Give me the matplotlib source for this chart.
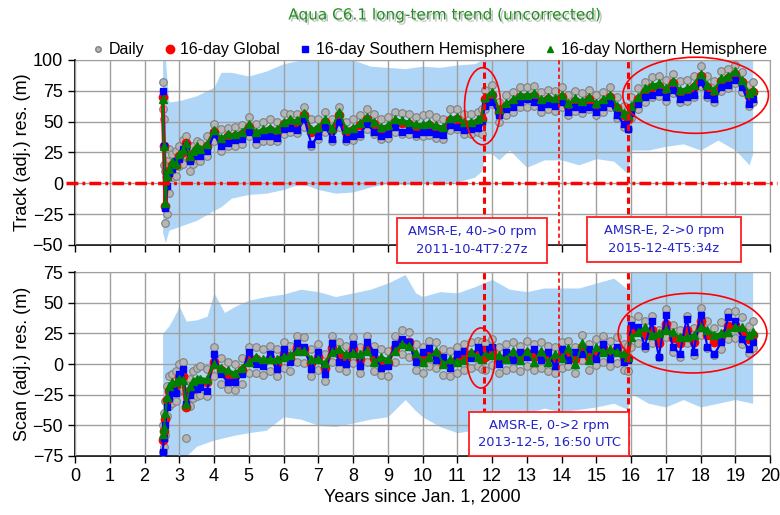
import matplotlib
matplotlib.use("Agg")
import matplotlib.pyplot as plt
import matplotlib.patheffects as pe
from matplotlib.patches import Ellipse, Rectangle
from matplotlib.lines import Line2D

plt.rcParams['font.family'] = ['Liberation Sans', 'DejaVu Sans']
plt.rcParams['lines.scale_dashes'] = False

# ---------------- data ----------------
years = [2.52, 2.56, 2.60, 2.65, 2.70, 2.80, 2.90, 3.00, 3.10, 3.20, 3.30, 3.40, 3.50, 3.60, 3.80,
         4.00, 4.20, 4.40, 4.60, 4.80, 5.00, 5.20, 5.40, 5.60, 5.80, 6.00, 6.20, 6.40, 6.60, 6.80,
         7.00, 7.20, 7.40, 7.60, 7.80, 8.00, 8.20, 8.40, 8.60, 8.80, 9.00, 9.20, 9.40, 9.60, 9.80,
         10.00, 10.20, 10.40, 10.60, 10.80, 11.00, 11.20, 11.40, 11.60,
         11.70, 11.80,
         12.00, 12.20, 12.40, 12.60, 12.80, 13.00, 13.20, 13.40, 13.60, 13.80,
         14.00, 14.20, 14.40, 14.60, 14.80, 15.00, 15.20, 15.40, 15.60, 15.80,
         15.90,
         16.00, 16.20, 16.40, 16.60, 16.80, 17.00, 17.20, 17.40, 17.60, 17.80, 18.00, 18.20, 18.40,
         18.60, 18.80, 19.00, 19.20, 19.40,
         19.50]

# Track panel
track_global = [70, 30, -18, 5, 10, 15, 15, 22, 25, 33, 20, 24, 28, 26, 30,
                42, 35, 38, 38, 40, 46, 40, 42, 43, 42, 48, 50, 49, 55, 42,
                44, 50, 43, 55, 42, 43, 47, 52, 48, 44, 45, 50, 49, 48, 46,
                46, 47, 45, 44, 51, 52, 48, 48, 50,
                52, 68,
                72, 58, 63, 66, 70, 70, 71, 66, 68, 67,
                70, 63, 67, 65, 68, 63, 66, 70, 61, 55,
                52,
                61, 68, 74, 78, 79, 75, 81, 74, 75, 78, 87, 78, 74,
                83, 85, 89, 82, 71,
                74]
track_south = [75, 30, -20, -2, 8, 12, 18, 20, 28, 30, 18, 22, 25, 22, 26,
               40, 30, 33, 35, 36, 42, 36, 38, 38, 37, 44, 45, 43, 52, 32,
               38, 46, 36, 50, 36, 38, 40, 48, 42, 38, 40, 46, 42, 43, 40,
               42, 42, 40, 39, 47, 46, 43, 44, 45,
               50, 63,
               66, 55, 60, 62, 66, 68, 66, 62, 64, 63,
               66, 58, 62, 60, 62, 58, 62, 65, 55, 48,
               44,
               57, 64, 70, 72, 74, 70, 76, 68, 70, 72, 82, 72, 68,
               78, 80, 84, 78, 64,
               68]
track_north = [68, 30, -16, 6, 12, 17, 16, 24, 27, 33, 22, 26, 30, 28, 32,
               43, 37, 40, 40, 42, 48, 42, 44, 45, 44, 50, 52, 51, 57, 44,
               46, 52, 45, 58, 44, 45, 49, 54, 50, 46, 47, 52, 51, 50, 48,
               48, 49, 47, 46, 53, 54, 50, 50, 52,
               54, 70,
               74, 60, 65, 68, 72, 72, 73, 68, 70, 69,
               72, 65, 69, 67, 70, 65, 68, 72, 63, 57,
               55,
               63, 70, 77, 80, 81, 77, 83, 76, 77, 80, 89, 80, 76,
               85, 87, 91, 84, 73,
               76]
track_daily_hi = [82, 52, 10, 18, 28, 24, 26, 30, 35, 38, 30, 30, 34, 33, 38,
                  48, 44, 45, 46, 47, 54, 48, 50, 52, 50, 57, 56, 56, 62, 52,
                  52, 58, 52, 62, 50, 52, 55, 60, 56, 52, 54, 58, 57, 56, 54,
                  55, 56, 54, 52, 60, 60, 56, 56, 58,
                  60, 76,
                  80, 66, 72, 74, 78, 78, 79, 74, 76, 75,
                  78, 72, 75, 73, 76, 72, 74, 78, 70, 63,
                  60,
                  70, 77, 82, 86, 87, 84, 89, 83, 84, 87, 95, 87, 83,
                  91, 93, 96, 90, 80,
                  82]
track_daily_lo = [60, 15, -32, -25, -8, 5, 6, 14, 16, 22, 10, 16, 20, 18, 22,
                  34, 26, 30, 30, 32, 38, 32, 34, 34, 34, 40, 42, 41, 46, 30,
                  36, 42, 34, 46, 34, 35, 38, 44, 40, 36, 37, 42, 40, 40, 38,
                  38, 39, 37, 36, 43, 44, 40, 40, 42,
                  40, 60,
                  64, 50, 55, 58, 62, 62, 63, 58, 60, 59,
                  62, 55, 59, 57, 60, 55, 58, 62, 53, 46,
                  44,
                  53, 60, 66, 70, 71, 67, 73, 66, 67, 70, 79, 70, 66,
                  75, 77, 81, 74, 63,
                  66]
track_err_years = [2.52, 2.6, 2.7, 3.0, 3.5, 4.0, 4.2, 4.5, 5.0, 5.5, 6.0, 6.5, 7.0, 7.5, 8.0,
                   8.5, 9.0, 9.5, 10.0, 10.5, 11.0, 11.5, 11.7, 11.8, 12.0, 12.2, 12.5, 13.0,
                   13.5, 14.0, 14.5, 15.0, 15.5, 15.9, 16.0, 16.5, 17.0, 17.5, 18.0, 18.5,
                   19.0, 19.4, 19.5]
track_err_hi = [100, 100, 66, 67, 71, 78, 90, 90, 87, 91, 97, 100, 100, 100, 100,
                95, 94, 93, 95, 94, 96, 97, 100, 100, 100, 100, 100, 100,
                100, 100, 100, 100, 100, 100, 100, 100, 100, 100, 100, 100,
                100, 100, 100]
track_err_lo = [-40, -48, -38, -35, -30, -22, -19, -12, -9, -8, -5, 0, -5, -8, -7,
                -3, 0, -1, 0, -1, 1, 5, 10, 24, 24, 19, 27, 13,
                19, 19, 15, 20, 18, 8, 27, 27, 30, 32, 27, 35,
                27, 15, 24]

# Scan panel
scan_global = [-62, -55, -45, -29, -22, -20, -17, -11, -10, -35, -22, -17, -15, -14, -15,
               2, -5, -9, -10, -5, 4, 4, 2, 5, 1, 8, 5, 13, 12, 1,
               6, -3, 13, 8, 5, 12, 4, 13, 5, 2, 1, 13, 19, 18, 6,
               4, 9, 8, 2, 1, 4, 6, 8, 9,
               7, 6,
               10, 4, 6, 8, 5, 9, 6, 8, 5, 4,
               8, 9, 4, 14, 6, 10, 13, 9, 12, 6,
               5,
               25, 28, 24, 28, 17, 33, 21, 17, 28, 18, 35, 24, 18,
               23, 31, 32, 27, 20,
               24]
scan_south = [-72, -60, -50, -35, -28, -22, -24, -8, -4, -33, -25, -20, -20, -19, -22,
              8, -8, -15, -15, -8, 10, 0, -2, 8, -4, 12, 2, 17, 14, -4,
              10, -8, 17, 2, 0, 16, -2, 18, 10, -3, -2, 16, 20, 18, 2,
              10, 13, 3, 6, -3, 8, 11, 5, 14,
              10, 12,
              14, 0, 10, 3, 10, 6, 12, 3, 10, -2,
              12, 3, 10, 8, 12, 4, 16, 4, 14, 2,
              3,
              32, 30, 15, 35, 6, 40, 14, 8, 37, 10, 40, 14, 8,
              18, 38, 35, 20, 12,
              18]
scan_north = [-57, -52, -40, -27, -18, -15, -15, -12, -13, -33, -18, -14, -12, -12, -12,
              0, -3, -5, -7, -3, 2, 6, 4, 4, 4, 6, 7, 11, 11, 4,
              4, 1, 10, 12, 8, 9, 8, 11, 2, 6, 4, 11, 16, 15, 9,
              2, 6, 11, 0, 4, 2, 3, 10, 6,
              4, 8,
              7, 7, 4, 11, 3, 11, 2, 11, 2, 8,
              5, 13, 0, 17, 3, 14, 10, 12, 10, 9,
              6,
              22, 26, 30, 24, 25, 28, 26, 22, 22, 24, 30, 28, 24,
              25, 26, 30, 30, 24,
              26]
scan_daily_hi = [-50, -40, -30, -18, -10, -8, -6, 0, 2, -22, -12, -6, -3, -2, -4,
                 14, 5, 2, 0, 5, 14, 14, 12, 15, 12, 18, 15, 23, 22, 12,
                 16, 8, 23, 18, 15, 22, 14, 23, 15, 12, 11, 23, 28, 26, 16,
                 14, 19, 18, 12, 11, 14, 16, 18, 19,
                 18, 17,
                 20, 14, 16, 18, 15, 19, 16, 18, 15, 14,
                 18, 19, 14, 24, 16, 20, 23, 19, 22, 16,
                 15,
                 36, 39, 35, 39, 28, 45, 32, 28, 39, 29, 46, 35, 29,
                 34, 42, 43, 38, 31,
                 35]
scan_daily_lo = [-72, -68, -58, -42, -34, -32, -30, -22, -21, -60, -34, -28, -26, -25, -26,
                 -10, -16, -20, -21, -16, -7, -7, -9, -6, -10, -3, -6, 2, 1, -10,
                 -5, -14, 2, -3, -6, 1, -7, 2, -6, -9, -10, 2, 8, 6, -5,
                 -7, -2, -3, -9, -10, -7, -5, -3, -2,
                 -4, -5,
                 -1, -7, -5, -3, -6, -2, -5, -3, -6, -7,
                 -3, -2, -7, 3, -5, -1, 2, -2, 1, -5,
                 -6,
                 14, 17, 13, 17, 6, 22, 10, 6, 17, 7, 24, 13, 7,
                 12, 20, 21, 16, 9,
                 13]
scan_err_years = [2.52, 2.7, 2.8, 3.0, 3.2, 3.5, 3.8, 4.0, 4.3, 4.6, 5.0, 5.5, 6.0, 6.5, 7.0,
                  7.5, 8.0, 8.5, 9.0, 9.5, 9.8, 10.0, 10.5, 11.0, 11.5, 12.0, 12.5, 13.0,
                  13.5, 14.0, 14.5, 15.0, 15.5, 15.9, 16.0, 16.5, 17.0, 17.5, 18.0, 18.5,
                  19.0, 19.5]
scan_err_hi = [25, 31, 36, 47, 35, 36, 39, 58, 42, 47, 52, 55, 57, 61, 59,
               55, 58, 61, 66, 73, 58, 55, 59, 58, 63, 69, 61, 59,
               62, 62, 62, 66, 70, 61, 75, 75, 75, 75, 75, 75,
               75, 75]
scan_err_lo = [-75, -75, -75, -75, -75, -67, -64, -62, -60, -58, -56, -54, -43, -45, -50,
               -51, -48, -45, -43, -29, -38, -43, -51, -56, -54, -48, -43, -40,
               -36, -39, -37, -35, -32, -37, -24, -32, -35, -29, -35, -32,
               -29, -32]

event_years = [11.76, 13.93, 15.92]
xticks = list(range(0, 21))
track_yticks = [-50, -25, 0, 25, 50, 75, 100]
scan_yticks = [-75, -50, -25, 0, 25, 50, 75]

# ---------------- styles ----------------
BAND = '#b0d6f7'
GRID = '#a0a0a0'
fig = plt.figure(figsize=(7.8, 5.15), dpi=100)
ax1 = fig.add_axes([0.0962, 0.5243, 0.891, 0.3592])
ax2 = fig.add_axes([0.0962, 0.1146, 0.891, 0.3572])


def draw_panel(ax, err_t, err_lo, err_hi, d_hi, d_lo, g, s, n, ylim, yticks):
    ax.fill_between(err_t, err_lo, err_hi, color=BAND, lw=0, zorder=1)
    for d in (d_hi, d_lo):
        ax.plot(years, d, 'o', ls='none', ms=5.5, mfc='#b5b5b5', mec='#808080', mew=0.8, zorder=3)
    ax.plot(years, g, '-', color='red', lw=3, zorder=4)
    ax.plot(years, g, 'o', ls='none', ms=6, color='red', zorder=4)
    ax.plot(years, s, '-', color='blue', lw=1.5, zorder=5)
    ax.plot(years, s, 's', ls='none', ms=5, color='blue', zorder=5)
    ax.plot(years, n, '-', color='green', lw=1.5, zorder=6)
    ax.plot(years, n, '^', ls='none', ms=5.5, color='green', zorder=6)
    ax.set_xlim(0, 20)
    ax.set_ylim(*ylim)
    ax.set_xticks(xticks)
    ax.set_yticks(yticks)
    ax.grid(True, color=GRID, lw=1.0, zorder=2)
    ax.set_axisbelow(False)
    for sp in ('top', 'right'):
        ax.spines[sp].set_color(GRID)
    for sp in ('left', 'bottom'):
        ax.spines[sp].set_color('black')
        ax.spines[sp].set_linewidth(1.2)
    ax.tick_params(direction='out', length=5, width=1, labelsize=13, top=False, right=False)


draw_panel(ax1, track_err_years, track_err_lo, track_err_hi, track_daily_hi, track_daily_lo,
           track_global, track_south, track_north, (-50, 100), track_yticks)
draw_panel(ax2, scan_err_years, scan_err_lo, scan_err_hi, scan_daily_hi, scan_daily_lo,
           scan_global, scan_south, scan_north, (-75, 75), scan_yticks)
ax1.tick_params(labelbottom=False)

ax1.set_ylabel('Track (adj.) res. (m)', fontsize=13, labelpad=1)
ax2.set_ylabel('Scan (adj.) res. (m)', fontsize=13, labelpad=1)
ax2.set_xlabel('Years since Jan. 1, 2000', fontsize=13, labelpad=3)
fig.align_ylabels([ax1, ax2])

# zero reference line (dash-dot)
ax1.plot([-0.25, 20.2], [0, 0], color='red', lw=2.5, dashes=[8.5, 3, 2, 3], clip_on=False, zorder=7)

# event lines
for ax in (ax1, ax2):
    ax.axvline(event_years[0], color='red', lw=2.2, dashes=[4.5, 3], zorder=7)
    ax.axvline(event_years[1], color='red', lw=1.2, dashes=[3, 2.2], zorder=7)
    ax.axvline(event_years[2], color='red', lw=2.2, dashes=[4.5, 3], zorder=7)

# ellipses
ax1.add_patch(Ellipse((11.73, 62.5), 1.04, 62.5, fill=False, ec='red', lw=1.2, clip_on=False, zorder=8))
ax1.add_patch(Ellipse((17.86, 71.4), 4.19, 61.7, fill=False, ec='red', lw=1.2, clip_on=False, zorder=8))
ax2.add_patch(Ellipse((11.68, 4.9), 0.81, 49, fill=False, ec='red', lw=1.2, clip_on=False, zorder=8))
ax2.add_patch(Ellipse((17.77, 25.2), 4.28, 65, fill=False, ec='red', lw=1.2, clip_on=False, zorder=8))

# annotation boxes (pixel boxes in figure fraction)
W, H = 780.0, 515.0
boxes = [((397, 218, 547, 263), 'AMSR-E, 40->0 rpm\n2011-10-4T7:27z'),
         ((587, 217, 741, 262), 'AMSR-E, 2->0 rpm\n2015-12-4T5:34z'),
         ((469, 412, 629, 456), 'AMSR-E, 0->2 rpm\n2013-12-5, 16:50 UTC')]
for (x0, y0, x1, y1), txt in boxes:
    fig.add_artist(Rectangle((x0 / W, 1 - y1 / H), (x1 - x0) / W, (y1 - y0) / H,
                             transform=fig.transFigure, fc='white', ec='#ff2020', lw=1.3, zorder=20))
    fig.text((x0 + x1) / 2 / W, 1 - (y0 + y1) / 2 / H, txt, ha='center', va='center',
             color='#2323c8', fontsize=9.4, linespacing=1.45, family=['DejaVu Sans'], zorder=21)

# title with shadow
fig.text(445 / W, 1 - 15 / H, 'Aqua C6.1 long-term trend (uncorrected)', ha='center', va='center',
         color='#228b22', fontsize=11, family=['DejaVu Sans'],
         path_effects=[pe.SimplePatchShadow(offset=(1.5, -1.5), shadow_rgbFace='#999999', alpha=0.6),
                       pe.Normal()])

# legend
handles = [Line2D([], [], ls='none', marker='o', ms=4, mfc='#b5b5b5', mec='#808080'),
           Line2D([], [], ls='none', marker='o', ms=6, color='red'),
           Line2D([], [], ls='none', marker='s', ms=4, color='blue'),
           Line2D([], [], ls='none', marker='^', ms=4.5, color='green')]
labels = ['Daily', '16-day Global', '16-day Southern Hemisphere', '16-day Northern Hemisphere']
ax1.legend(handles, labels, loc='center', bbox_to_anchor=((430 - 75) / 695, 1 + 10 / 185), ncol=4,
           frameon=False, fontsize=11.5, handlelength=0.6, handletextpad=0.35, columnspacing=1.3,
           borderaxespad=0, borderpad=0.0)

fig.savefig('out.png', dpi=100)
